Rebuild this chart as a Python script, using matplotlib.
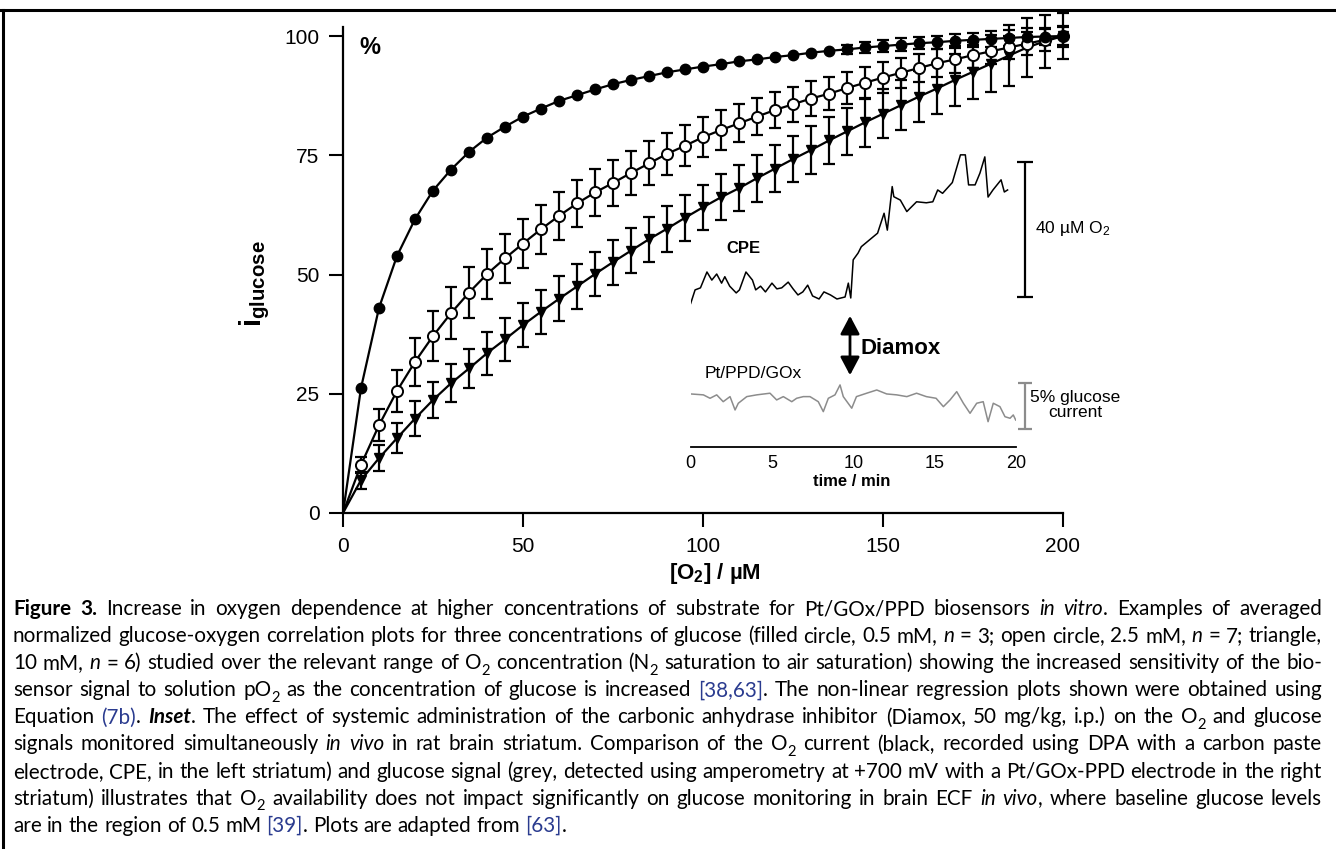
import matplotlib
matplotlib.use("Agg")
import matplotlib.pyplot as plt
from matplotlib.lines import Line2D
from matplotlib.patches import FancyArrowPatch
from matplotlib.transforms import IdentityTransform

plt.rcParams["font.family"] = ["Liberation Sans", "DejaVu Sans"]
plt.rcParams["mathtext.fontset"] = "custom"
plt.rcParams["mathtext.rm"] = "Liberation Sans"
plt.rcParams["mathtext.bf"] = "Liberation Sans:bold"
plt.rcParams["mathtext.it"] = "Liberation Sans:italic"

# ---- main plot data: normalized glucose signal (%) vs [O2] (uM) ----
o2_conc = [5, 10, 15, 20, 25, 30, 35, 40, 45, 50, 55, 60, 65, 70, 75, 80, 85, 90, 95, 100,
           105, 110, 115, 120, 125, 130, 135, 140, 145, 150, 155, 160, 165, 170, 175, 180, 185, 190, 195, 200]

glc_05mM = [26.2, 43.0, 53.9, 61.6, 67.6, 72.0, 75.7, 78.7, 81.0, 83.1, 84.8, 86.4, 87.6, 88.8, 89.9, 90.8,
            91.6, 92.4, 93.0, 93.6, 94.1, 94.7, 95.1, 95.6, 96.0, 96.5, 96.9, 97.2, 97.6, 97.9, 98.2, 98.5,
            98.7, 99.0, 99.2, 99.4, 99.6, 99.8, 99.9, 100.0]
glc_05mM_err = [0, 0, 0, 0, 0, 0, 0, 0, 0, 0, 0, 0, 0, 0, 0, 0,
                0, 0, 0, 0, 0, 0, 0, 0, 0, 0, 0, 1.0, 1.1, 1.2, 1.3, 1.3,
                1.4, 1.5, 1.5, 1.6, 1.7, 1.8, 1.8, 1.9]

glc_25mM = [10.1, 18.4, 25.6, 31.7, 37.1, 41.9, 46.2, 50.1, 53.4, 56.5, 59.5, 62.3, 64.9, 67.2, 69.2, 71.3,
            73.3, 75.3, 77.0, 78.8, 80.3, 81.7, 83.1, 84.5, 85.7, 86.9, 87.9, 89.1, 90.2, 91.3, 92.3, 93.3,
            94.3, 95.1, 96.0, 96.8, 97.6, 98.4, 99.2, 100.0]
glc_25mM_err = [1.7, 3.4, 4.4, 5.0, 5.3, 5.4, 5.4, 5.3, 5.2, 5.2, 5.1, 5.0, 4.9, 4.9, 4.8, 4.7,
                4.6, 4.4, 4.3, 4.2, 4.1, 4.0, 3.9, 3.8, 3.7, 3.6, 3.5, 3.4, 3.3, 3.2, 3.1, 3.0,
                2.9, 2.8, 2.7, 2.6, 2.5, 2.4, 2.3, 2.2]

glc_10mM = [6.9, 11.5, 15.7, 19.8, 23.7, 27.2, 30.3, 33.5, 36.4, 39.4, 42.2, 44.9, 47.5, 50.1, 52.6, 55.0,
            57.4, 59.6, 61.9, 64.1, 66.2, 68.1, 70.2, 72.2, 74.2, 76.1, 78.1, 80.0, 81.9, 83.7, 85.5, 87.3,
            89.0, 90.8, 92.5, 94.2, 95.9, 97.6, 98.9, 100.0]
glc_10mM_err = [1.8, 2.7, 3.1, 3.7, 3.8, 4.0, 4.0, 4.5, 4.5, 4.6, 4.6, 4.7, 4.7, 4.7, 4.7, 4.7,
                4.7, 4.8, 4.8, 4.7, 4.8, 4.8, 4.9, 4.9, 4.9, 5.0, 5.0, 5.0, 5.1, 5.1, 5.2, 5.3,
                5.4, 5.5, 5.7, 6.0, 6.4, 6.1, 5.5, 4.8]

# ---- inset data ----
cpe_time = [0.0, 0.27, 0.6, 1.0, 1.3, 1.6, 1.9, 2.1, 2.4, 2.8, 3.0, 3.4, 3.8, 4.0, 4.3, 4.6, 5.0, 5.3,
            5.6, 6.0, 6.3, 6.6, 6.9, 7.2, 7.5, 7.9, 8.2, 8.6, 9.0, 9.5, 9.7, 9.85, 10.0, 10.3, 10.5, 11.0,
            11.5, 11.9, 12.1, 12.4, 12.5, 12.9, 13.3, 13.9, 14.5, 14.9, 15.2, 15.5, 16.1, 16.6, 16.9, 17.1,
            17.5, 17.8, 18.1, 18.3, 18.6, 19.1, 19.3, 19.5]
cpe_o2 = [-1.0, 3.0, 3.6, 8.3, 5.9, 7.7, 5.0, 6.9, 4.1, 2.1, 3.0, 8.3, 5.9, 3.0, 4.1, 2.4, 5.0, 3.3,
          3.6, 5.3, 3.3, 1.5, 2.4, 4.4, 1.2, 0.3, 2.4, 1.5, 0.3, 0.9, 5.0, 0.6, 11.9, 13.9, 15.8, 17.8,
          19.8, 25.7, 20.7, 33.6, 30.6, 29.6, 26.2, 29.1, 28.8, 29.1, 32.6, 31.6, 34.8, 43.0, 43.0, 34.1,
          34.1, 37.6, 42.4, 30.5, 32.6, 35.6, 32.0, 32.6]

gox_time = [0.0, 0.78, 1.19, 1.6, 2.0, 2.42, 2.73, 2.93, 3.45, 4.06, 4.88, 5.29, 5.7, 6.22, 6.52, 6.93,
            7.34, 7.85, 8.16, 8.47, 8.88, 9.19, 9.39, 9.91, 10.2, 10.83, 11.45, 12.06, 12.68, 13.3, 13.9,
            14.5, 15.1, 15.55, 15.96, 16.37, 16.78, 17.19, 17.6, 18.0, 18.3, 18.62, 19.03, 19.34, 19.65,
            19.85, 20.0]
gox_signal = [0.0, -0.1, -0.47, -0.1, -0.84, -0.29, -1.74, -1.01, -0.29, -0.1, 0.08, -0.65, -0.29, -0.84,
              -0.47, -0.29, -0.29, -0.84, -1.92, -0.47, -0.1, 0.98, -0.29, -1.55, -0.29, 0.08, 0.43, 0.0,
              -0.1, -0.29, 0.08, -0.29, -0.47, -1.38, -0.65, 0.25, -1.01, -2.1, -1.01, -0.84, -3.01, -1.01,
              -1.38, -2.47, -2.64, -2.28, -2.83]

W, H = 1336, 849
fig = plt.figure(figsize=(W / 100, H / 100), dpi=100)


def fx(px):
    return px / W


def fy(py):
    return 1 - py / H


# frame lines of the figure panel
fig.add_artist(Line2D([0, 1], [fy(10), fy(10)], transform=fig.transFigure, color="k", lw=2.2))
fig.add_artist(Line2D([fx(3), fx(3)], [fy(10), 0], transform=fig.transFigure, color="k", lw=2.2))

# ---- main axes ----
ax = fig.add_axes([fx(343), fy(513), fx(1063) - fx(343), fy(26.5) - fy(513)])
ax.set_xlim(0, 200)
ax.set_ylim(0, 102)
for s in ["top", "right"]:
    ax.spines[s].set_visible(False)
for s in ["left", "bottom"]:
    ax.spines[s].set_linewidth(1.6)
ax.set_xticks([0, 50, 100, 150, 200])
ax.set_yticks([0, 25, 50, 75, 100])
ax.tick_params(direction="out", length=10, width=1.5, labelsize=15)
ax.tick_params(axis="y", pad=7)
ax.tick_params(axis="x", pad=7)

series = [
    (glc_10mM, glc_10mM_err, dict(marker="v", ms=6.5, mfc="k", mec="k")),
    (glc_25mM, glc_25mM_err, dict(marker="o", ms=8, mfc="white", mec="k", mew=1.4)),
    (glc_05mM, glc_05mM_err, dict(marker="o", ms=7.5, mfc="k", mec="k")),
]
for vals, err, mk in series:
    ax.plot([0] + o2_conc, [0] + vals, color="k", lw=1.6, clip_on=False, zorder=2)
    keep = [i for i, e in enumerate(err) if e > 0]
    ax.errorbar([o2_conc[i] for i in keep], [vals[i] for i in keep], yerr=[err[i] for i in keep],
                fmt="none", ecolor="k", elinewidth=1.6, capsize=4.5, capthick=1.6,
                clip_on=False, zorder=3)
    ax.plot(o2_conc, vals, ls="none", clip_on=False, zorder=4, **mk)

fig.text(fx(370), fy(47), "%", fontsize=17, fontweight="bold", ha="center", va="center")
fig.text(fx(715), fy(573), "[O$_\\mathbf{2}$] / \u00b5M", fontsize=16, fontweight="bold",
         ha="center", va="center")
fig.text(fx(255), fy(284), r"$\mathbf{i}_{\mathbf{glucose}}$", fontsize=21, rotation=90,
         ha="center", va="center")

# ---- inset: O2 trace (CPE) ----
t0, t1 = 690.7, 1015.7
ax_o2 = fig.add_axes([fx(t0), fy(310), fx(t1) - fx(t0), fy(140) - fy(310)])
ax_o2.set_xlim(0, 20)
ax_o2.set_ylim(-2.96, 47.4)
ax_o2.axis("off")
ax_o2.plot(cpe_time, cpe_o2, color="k", lw=1.1)
ax_o2.errorbar([20.6], [21], yerr=[20], fmt="none", ecolor="k", elinewidth=1.6,
               capsize=6, capthick=1.6, clip_on=False)

# ---- inset: glucose trace (Pt/PPD/GOx) ----
ax_g = fig.add_axes([fx(t0), fy(447), fx(t1) - fx(t0), fy(370) - fy(447)])
ax_g.set_xlim(0, 20)
ax_g.set_ylim(-5.76, 2.6)
ax_g.patch.set_visible(False)
for s in ["top", "right", "left"]:
    ax_g.spines[s].set_visible(False)
ax_g.spines["bottom"].set_linewidth(1.3)
ax_g.set_yticks([])
ax_g.set_xticks([0, 5, 10, 15, 20])
ax_g.tick_params(axis="x", length=0, labelsize=13, pad=6)
ax_g.set_xticks([0, 20], minor=True)
ax_g.tick_params(axis="x", which="minor", direction="in", length=4, width=1.3)
ax_g.plot(gox_time, gox_signal, color="#8c8c8c", lw=1.1)
ax_g.errorbar([20.6], [-1.34], yerr=[2.5], fmt="none", ecolor="#8c8c8c", elinewidth=1.6,
              capsize=5, capthick=1.6, clip_on=False)

fig.text(fx(852), fy(481), "time / min", fontsize=12, fontweight="bold", ha="center", va="center")
fig.text(fx(743), fy(248), "CPE", fontsize=12, fontweight="bold", ha="center", va="center")
fig.text(fx(753), fy(373), "Pt/PPD/GOx", fontsize=12.5, ha="center", va="center")
fig.text(fx(1035), fy(228), "40 \u00b5M O$_2$", fontsize=12.5, ha="left", va="center")
fig.text(fx(1075), fy(405), "5% glucose\ncurrent", fontsize=12.5, ha="center", va="center",
         linespacing=1.0)
fig.text(fx(860), fy(348), "Diamox", fontsize=16, fontweight="bold", ha="left", va="center")
fig.add_artist(FancyArrowPatch((fx(850), fy(313)), (fx(850), fy(378)), transform=fig.transFigure,
                               arrowstyle="<|-|>,head_length=0.85,head_width=0.45",
                               mutation_scale=13, lw=2, color="k"))

# ---- caption (justified) ----
caption_lines = [
    "*Figure 3.* Increase in oxygen dependence at higher concentrations of substrate for Pt/GOx/PPD biosensors _in vitro_. Examples of averaged",
    "normalized glucose-oxygen correlation plots for three concentrations of glucose (filled circle, 0.5 mM, _n_ = 3; open circle, 2.5 mM, _n_ = 7; triangle,",
    "10 mM, _n_ = 6) studied over the relevant range of O^2^ concentration (N^2^ saturation to air saturation) showing the increased sensitivity of the bio-",
    "sensor signal to solution pO^2^ as the concentration of glucose is increased @[38,63]@. The non-linear regression plots shown were obtained using",
    "Equation @(7b)@. *_Inset_*. The effect of systemic administration of the carbonic anhydrase inhibitor (Diamox, 50 mg/kg, i.p.) on the O^2^ and glucose",
    "signals monitored simultaneously _in vivo_ in rat brain striatum. Comparison of the O^2^ current (black, recorded using DPA with a carbon paste",
    "electrode, CPE, in the left striatum) and glucose signal (grey, detected using amperometry at +700 mV with a Pt/GOx-PPD electrode in the right",
    "striatum) illustrates that O^2^ availability does not impact significantly on glucose monitoring in brain ECF _in vivo_, where baseline glucose levels",
    "are in the region of 0.5 mM @[39]@. Plots are adapted from @[63]@.",
]
cap_font = "Lato"
ref_color = "#2a3b8f"
cap_left, cap_right = 13, 1322
cap_base0, cap_step = 615, 27.1


def parse(line):
    words, cur, piece = [], [], ""
    st = {"b": False, "i": False, "r": False, "s": False}
    keys = {"*": "b", "_": "i", "@": "r", "^": "s"}
    for ch in line:
        if ch in keys or ch == " ":
            if piece:
                cur.append((piece, dict(st)))
                piece = ""
            if ch == " ":
                if cur:
                    words.append(cur)
                cur = []
            else:
                st[keys[ch]] = not st[keys[ch]]
        else:
            piece += ch
    if piece:
        cur.append((piece, dict(st)))
    if cur:
        words.append(cur)
    return words


renderer = fig.canvas.get_renderer()


def make_piece(s, st, size):
    t = fig.text(0, 0, s, transform=IdentityTransform(), family=cap_font,
                 fontsize=size * (0.72 if st["s"] else 1.0),
                 fontweight="bold" if st["b"] else "normal",
                 fontstyle="italic" if st["i"] else "normal",
                 color=ref_color if st["r"] else "black", va="baseline", ha="left")
    return t, t.get_window_extent(renderer).width


def layout_caption(size, draw):
    plain = {"b": False, "i": False, "r": False, "s": False}
    ta, wa = make_piece("nn", plain, size)
    tb, wb = make_piece("n n", plain, size)
    space_w = wb - wa
    ta.remove()
    tb.remove()
    widest = 0
    for i, line in enumerate(caption_lines):
        placed = [[make_piece(s, st, size) + (st,) for s, st in word] for word in parse(line)]
        word_w = [sum(p[1] for p in w) for w in placed]
        widest = max(widest, sum(word_w) + space_w * (len(placed) - 1))
        if not draw:
            for w in placed:
                for p in w:
                    p[0].remove()
            continue
        if i < len(caption_lines) - 1:
            gap = (cap_right - cap_left - sum(word_w)) / (len(placed) - 1)
        else:
            gap = space_w
        base = H - (cap_base0 + i * cap_step)
        x = cap_left
        for pieces, ww in zip(placed, word_w):
            for t, w, st in pieces:
                y = base - (0.28 * size * 100 / 72 if st["s"] else 0)
                t.set_position((x, y))
                x += w
            x += gap
    return widest


cap_size = 15.5
widest = layout_caption(cap_size, draw=False)
if widest > (cap_right - cap_left) * 0.995:
    cap_size = cap_size * (cap_right - cap_left) * 0.99 / widest
layout_caption(cap_size, draw=True)

fig.savefig("out.png", dpi=100)
